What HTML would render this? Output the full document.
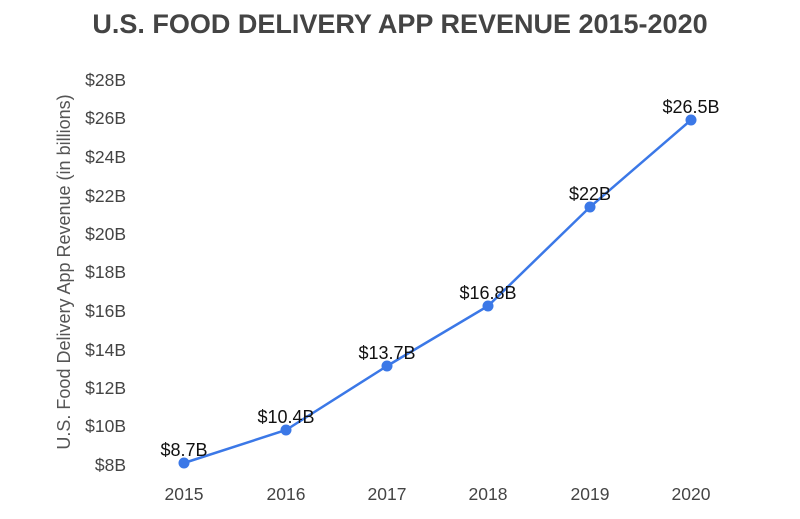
<!DOCTYPE html>
<html><head><meta charset="utf-8"><style>
body{margin:0;background:#fff;}
svg{display:block;font-family:"Liberation Sans",sans-serif;}
</style></head><body>
<svg width="800" height="519" viewBox="0 0 800 519">
<text x="400" y="33" text-anchor="middle" font-size="27" font-weight="bold" fill="#444">U.S. FOOD DELIVERY APP REVENUE 2015-2020</text>
<text transform="translate(70,272) rotate(-90)" text-anchor="middle" font-size="18" fill="#555">U.S. Food Delivery App Revenue (in billions)</text>
<g font-size="17.5" fill="#444" text-anchor="end">
<text x="126" y="86">$28B</text>
<text x="126" y="124">$26B</text>
<text x="126" y="163">$24B</text>
<text x="126" y="202">$22B</text>
<text x="126" y="240">$20B</text>
<text x="126" y="278">$18B</text>
<text x="126" y="317">$16B</text>
<text x="126" y="356">$14B</text>
<text x="126" y="394">$12B</text>
<text x="126" y="432">$10B</text>
<text x="126" y="471">$8B</text>
</g>
<g font-size="17.5" fill="#444" text-anchor="middle">
<text x="184" y="500">2015</text>
<text x="286" y="500">2016</text>
<text x="387" y="500">2017</text>
<text x="488" y="500">2018</text>
<text x="590" y="500">2019</text>
<text x="691" y="500">2020</text>
</g>
<polyline points="184,463 286,430 387,366 488,306 590,207 691,120" fill="none" stroke="#3b78e7" stroke-width="2.5"/>
<g fill="#3b78e7">
<circle cx="184" cy="463" r="5.5"/><circle cx="286" cy="430" r="5.5"/><circle cx="387" cy="366" r="5.5"/><circle cx="488" cy="306" r="5.5"/><circle cx="590" cy="207" r="5.5"/><circle cx="691" cy="120" r="5.5"/>
</g>
<g font-size="18" fill="#111" text-anchor="middle">
<text x="184" y="456">$8.7B</text>
<text x="286" y="423">$10.4B</text>
<text x="387" y="359">$13.7B</text>
<text x="488" y="299">$16.8B</text>
<text x="590" y="200">$22B</text>
<text x="691" y="113">$26.5B</text>
</g>
</svg>
</body></html>
